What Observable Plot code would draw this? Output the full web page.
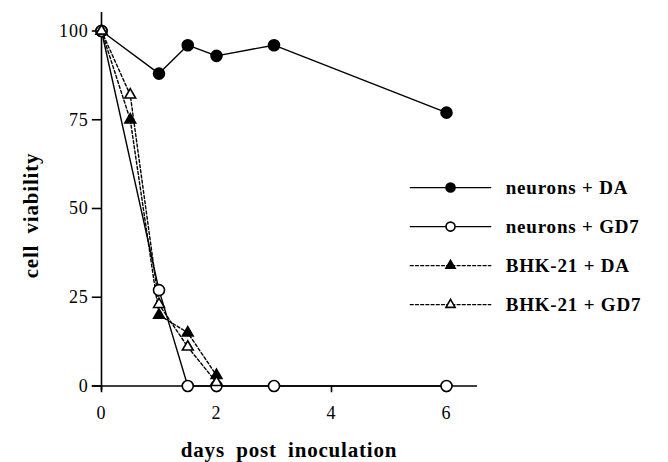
<!DOCTYPE html>
<html>
<head>
<meta charset="utf-8">
<script src="https://cdn.jsdelivr.net/npm/d3@7"></script>
<script src="https://cdn.jsdelivr.net/npm/@observablehq/plot@0.6"></script>
<style>
  html, body { margin: 0; padding: 0; background: #fff; }
  #chart { width: 668px; height: 462px; }
  #chart svg, #chart svg text, #chart svg g { font-family: "Liberation Serif", "Times New Roman", "DejaVu Serif", serif !important; }
  #chart svg text { letter-spacing: 0.8px; }
</style>
</head>
<body>
<div id="chart"></div>
<script>
// Data
const seriesNames = ["neurons + DA", "neurons + GD7", "BHK-21 + DA", "BHK-21 + GD7"];
const neuronsDA_days = [0, 1, 1.5, 2, 3, 6];
const neuronsDA_vals = [100, 88, 96, 93, 96, 77];
const neuronsGD7_days = [0, 1, 1.5, 2, 3, 6];
const neuronsGD7_vals = [100, 27, 0, 0, 0, 0];
const bhkDA_days = [0, 0.5, 1, 1.5, 2];
const bhkDA_vals = [100, 75, 20, 15, 3];
const bhkGD7_days = [0, 0.5, 1, 1.5, 2];
const bhkGD7_vals = [100, 82, 23, 11, 1];
const xTicks = [0, 2, 4, 6];
const yTicks = [0, 25, 50, 75, 100];
const xLabel = "days\u2002post\u2002inoculation";
const yLabel = "cell\u2002viability";

// legend rows (in data space, drawn outside the frame)
const legendY = [55.9, 44.9, 33.9, 22.9];
const legendLine = [5.37, 6.77];
const legendMarkX = 6.07;
const legendTextX = 7.03;

const FONT = "'Liberation Serif', 'Times New Roman', 'DejaVu Serif', serif";

const styles = [
  {symbol: "circle", fill: "black", dash: null},
  {symbol: "circle", fill: "white", dash: null},
  {symbol: "triangle", fill: "black", dash: "3,2.2"},
  {symbol: "triangle", fill: "white", dash: "3,2.2"}
];

const toRows = (days, vals, s) => days.map((d, i) => ({day: d, v: vals[i], s}));
const series = [
  toRows(neuronsDA_days, neuronsDA_vals, 0),
  toRows(neuronsGD7_days, neuronsGD7_vals, 1),
  toRows(bhkDA_days, bhkDA_vals, 2),
  toRows(bhkGD7_days, bhkGD7_vals, 3)
];

const marks = [];
// axes lines
marks.push(Plot.ruleX([0], {x: d => d, y1: -1.3, y2: 105.2, stroke: "black", strokeWidth: 1.6}));
marks.push(Plot.ruleY([0], {y: d => d, x1: -0.16, x2: 6.54, stroke: "black", strokeWidth: 1.6}));
// ticks
marks.push(Plot.ruleY(yTicks, {y: d => d, x1: -0.16, x2: 0, stroke: "black", strokeWidth: 1.6}));
marks.push(Plot.ruleX(xTicks, {x: d => d, y1: 0, y2: -1.9, stroke: "black", strokeWidth: 1.6}));
marks.push(Plot.text(yTicks, {x: () => 0, y: d => d, text: d => String(d), textAnchor: "end", dx: -13, fontSize: 18, fontFamily: FONT, fill: "black"}));
marks.push(Plot.text(xTicks, {x: d => d, y: () => 0, text: d => String(d), dy: 27, fontSize: 18, fontFamily: FONT, fill: "black"}));

// series lines
series.forEach((rows, i) => {
  marks.push(Plot.line(rows, {x: "day", y: "v", stroke: "black", strokeWidth: 1.4, strokeDasharray: styles[i].dash}));
});
// series markers
series.forEach((rows, i) => {
  const st = styles[i];
  marks.push(Plot.dot(rows, {x: "day", y: "v", symbol: st.symbol, r: st.symbol === "circle" ? 5.5 : 4, fill: st.fill, stroke: "black", strokeWidth: 1.6}));
});

// legend
seriesNames.forEach((name, i) => {
  const st = styles[i];
  marks.push(Plot.line(legendLine.map(x => ({x, y: legendY[i]})), {x: "x", y: "y", stroke: "black", strokeWidth: 1.3, strokeDasharray: st.dash}));
  marks.push(Plot.dot([{x: legendMarkX, y: legendY[i]}], {x: "x", y: "y", symbol: st.symbol, r: st.symbol === "circle" ? 4.5 : 3.4, fill: st.fill, stroke: "black", strokeWidth: 1.6}));
  marks.push(Plot.text([{x: legendTextX, y: legendY[i], name}], {x: "x", y: "y", text: "name", textAnchor: "start", fontSize: 19, fontWeight: "bold", fontFamily: FONT, fill: "black"}));
});

// axis labels
marks.push(Plot.text([xLabel], {frameAnchor: "bottom", textAnchor: "middle", lineAnchor: "bottom", dx: 15, dy: 71, text: d => d, fontSize: 21, fontWeight: "bold", fontFamily: FONT, fill: "black"}));
marks.push(Plot.text([yLabel], {frameAnchor: "left", textAnchor: "middle", lineAnchor: "middle", dx: -70, dy: 7, rotate: -90, text: d => d, fontSize: 21, fontWeight: "bold", fontFamily: FONT, fill: "black"}));

const chart = Plot.plot({
  width: 668,
  height: 462,
  marginLeft: 101,
  marginRight: 222,
  marginTop: 30.5,
  marginBottom: 76.5,
  x: {type: "linear", domain: [0, 6], axis: null},
  y: {type: "linear", domain: [0, 100], axis: null},
  style: {background: "white", color: "black", overflow: "visible", fontFamily: FONT},
  marks
});
document.getElementById("chart").appendChild(chart);
</script>
</body>
</html>
